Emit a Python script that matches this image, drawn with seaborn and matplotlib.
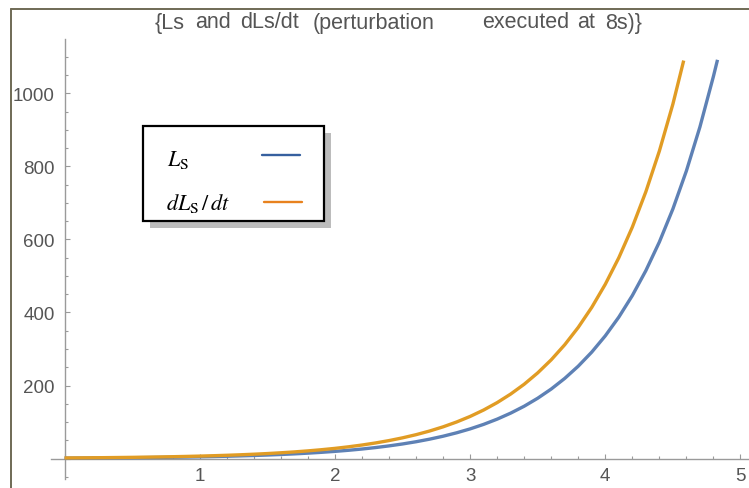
import matplotlib
matplotlib.use("Agg")
import matplotlib.pyplot as plt
import seaborn as sns
import pandas as pd
from matplotlib.lines import Line2D
from matplotlib.patches import Rectangle
from matplotlib.ticker import MultipleLocator, FuncFormatter

# Ls and its time derivative sampled on t (seconds)
t_ls = [0.0, 0.1, 0.2, 0.3, 0.4, 0.5, 0.6, 0.7, 0.8, 0.9,
        1.0, 1.1, 1.2, 1.3, 1.4, 1.5, 1.6, 1.7, 1.8, 1.9,
        2.0, 2.1, 2.2, 2.3, 2.4, 2.5, 2.6, 2.7, 2.8, 2.9,
        3.0, 3.1, 3.2, 3.3, 3.4, 3.5, 3.6, 3.7, 3.8, 3.9,
        4.0, 4.1, 4.2, 4.3, 4.4, 4.5, 4.6, 4.7, 4.8, 4.83]
ls_values = [1.15, 1.32, 1.52, 1.76, 2.02, 2.33, 2.69, 3.10, 3.57, 4.12,
             4.75, 5.47, 6.30, 7.27, 8.37, 9.65, 11.13, 12.82, 14.78, 17.04,
             19.63, 22.63, 26.08, 30.06, 34.65, 39.94, 46.03, 53.06, 61.15, 70.49,
             81.2, 93.6, 107.9, 124.4, 143.3, 165.2, 190.4, 219.5, 253.0, 291.6,
             336.1, 387.3, 446.4, 514.6, 593.1, 683.6, 787.9, 908.2, 1046.8, 1092.0]

t_dls = [0.0, 0.1, 0.2, 0.3, 0.4, 0.5, 0.6, 0.7, 0.8, 0.9,
         1.0, 1.1, 1.2, 1.3, 1.4, 1.5, 1.6, 1.7, 1.8, 1.9,
         2.0, 2.1, 2.2, 2.3, 2.4, 2.5, 2.6, 2.7, 2.8, 2.9,
         3.0, 3.1, 3.2, 3.3, 3.4, 3.5, 3.6, 3.7, 3.8, 3.9,
         4.0, 4.1, 4.2, 4.3, 4.4, 4.5, 4.58]
dls_values = [1.63, 1.88, 2.16, 2.49, 2.87, 3.31, 3.82, 4.40, 5.07, 5.85,
              6.74, 7.77, 8.95, 10.32, 11.89, 13.70, 15.80, 18.20, 20.99, 24.20,
              27.87, 32.13, 37.03, 42.69, 49.20, 56.71, 65.36, 75.35, 86.83, 100.1,
              115.3, 132.9, 153.2, 176.6, 203.5, 234.6, 270.4, 311.7, 359.3, 414.1,
              477.3, 550.0, 633.9, 730.7, 842.2, 970.7, 1090.0]

title_words = ["{Ls", "and", "dLs/dt", "(perturbation", "executed", "at", "8s)}"]
legend_labels = [r"$L_{\mathrm{S}}$", r"$dL_{\mathrm{S}}\,/\,dt$"]
legend_colors = ["#36609F", "#E8821E"]

sns.set_theme(style="white")
plt.rcParams["font.family"] = ["Liberation Sans", "DejaVu Sans"]
plt.rcParams["mathtext.fontset"] = "stix"

W, H = 749, 489
fig = plt.figure(figsize=(W / 100, H / 100), dpi=100)
fig.patch.set_facecolor("white")

ax_left, ax_right, ax_top, ax_bottom = 51, 749, 40, 480
ax = fig.add_axes([ax_left / W, (H - ax_bottom) / H,
                   (ax_right - ax_left) / W, (ax_bottom - ax_top) / H])
ax.set_facecolor("white")

df_ls = pd.DataFrame({"t": t_ls, "value": ls_values})
df_dls = pd.DataFrame({"t": t_dls, "value": dls_values})
sns.lineplot(data=df_ls, x="t", y="value", ax=ax, color="#5E81B5", lw=2.4,
             solid_capstyle="butt", zorder=3)
sns.lineplot(data=df_dls, x="t", y="value", ax=ax, color="#E19C24", lw=2.4,
             solid_capstyle="butt", zorder=4)

ax.set_xlim(-0.1, 5.063)
ax.set_ylim(-56, 1149)
ax.set_xlabel("")
ax.set_ylabel("")

axis_grey = "#9a9a9a"
for side in ("top", "right"):
    ax.spines[side].set_visible(False)
for side in ("left", "bottom"):
    ax.spines[side].set_position(("data", 0))
    ax.spines[side].set_color(axis_grey)
    ax.spines[side].set_linewidth(1.0)

ax.xaxis.set_major_locator(MultipleLocator(1))
ax.xaxis.set_minor_locator(MultipleLocator(0.2))
ax.yaxis.set_major_locator(MultipleLocator(200))
ax.yaxis.set_minor_locator(MultipleLocator(50))
hide_zero = FuncFormatter(lambda v, p: "" if abs(v) < 1e-9 else f"{v:g}")
ax.xaxis.set_major_formatter(hide_zero)
ax.yaxis.set_major_formatter(hide_zero)
ax.tick_params(which="both", direction="in", color=axis_grey, width=0.8,
               labelcolor="#555555", labelsize=13.5)
ax.tick_params(which="major", length=3.8)
ax.tick_params(which="minor", length=2.4)
ax.tick_params(axis="y", which="major", pad=7)
ax.tick_params(axis="x", which="major", pad=6)
ax.tick_params(axis="both", which="both", left=True, bottom=True)

# title, word by word with the wide spacing of the original layout
title_word_left = [155, 195, 240, 313, 482, 577, 605]
for word, x in zip(title_words, title_word_left):
    fig.text(x / W, 1 - 23 / H, word, ha="left", va="center",
             color="#555555", fontsize=15.5)

# legend box with drop shadow, drawn in figure pixels
bx0, by0, bx1, by1 = 142.5, 127.3, 323.5, 221.7
fig.add_artist(Rectangle(((bx0 + 7) / W, (H - by1 - 7) / H),
                         (bx1 - bx0) / W, (by1 - by0) / H,
                         transform=fig.transFigure, facecolor="#bcbcbc",
                         edgecolor="none", zorder=5))
fig.add_artist(Rectangle((bx0 / W, (H - by1) / H),
                         (bx1 - bx0) / W, (by1 - by0) / H,
                         transform=fig.transFigure, facecolor="white",
                         edgecolor="black", lw=1.6, zorder=6))

legend_rows = [(167, 166, 262, 300, 156), (166, 210, 264, 302, 203)]
for label, color, (tx, ty, lx0, lx1, ly) in zip(legend_labels, legend_colors, legend_rows):
    fig.text(tx / W, 1 - ty / H, label, ha="left", va="baseline",
             fontsize=16, color="black", zorder=7)
    fig.add_artist(Line2D([lx0 / W, lx1 / W], [1 - ly / H, 1 - ly / H],
                          color=color, lw=1.7, transform=fig.transFigure,
                          zorder=7))

# outer frame
frame_color = "#6f6a55"
fig.add_artist(Line2D([11 / W, 11 / W], [0, 1 - 10 / H], color=frame_color,
                      lw=1.4, transform=fig.transFigure))
fig.add_artist(Line2D([11 / W, 1], [1 - 10 / H, 1 - 10 / H], color=frame_color,
                      lw=1.4, transform=fig.transFigure))

fig.savefig("out.png", dpi=100, facecolor="white")
